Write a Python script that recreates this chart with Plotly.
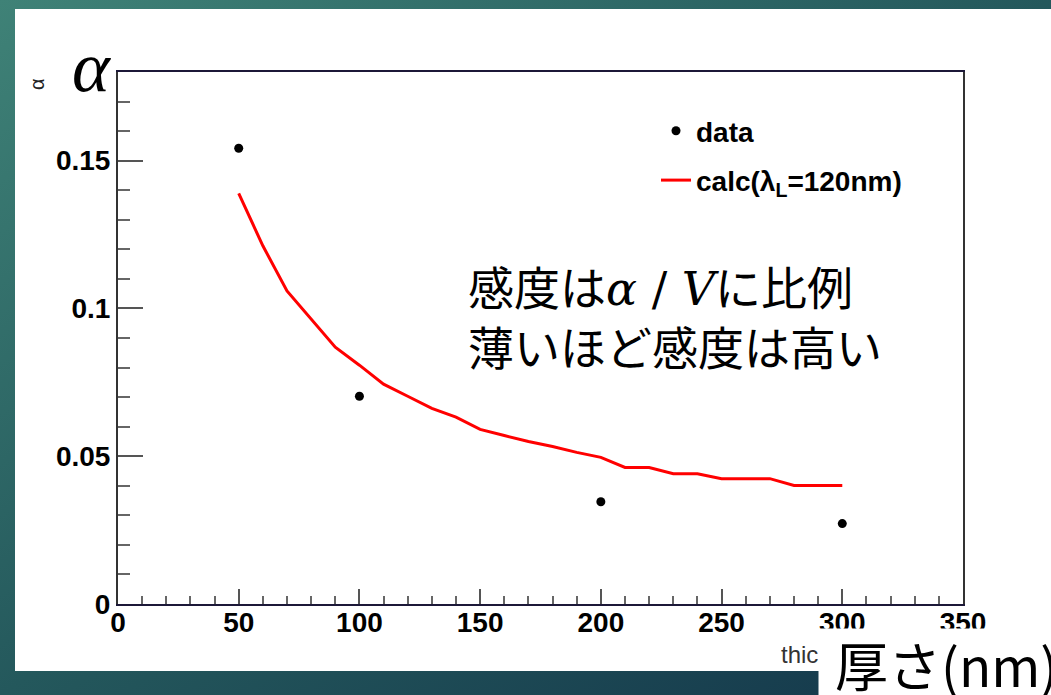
import base64
import plotly.graph_objects as go

# ---- data ----
thickness_data = [50, 100, 200, 300]
alpha_data = [0.1542, 0.0703, 0.0346, 0.0272]

thickness_calc = [50, 60, 70, 80, 90, 100, 110, 120, 130, 140, 150, 160, 170, 180, 190,
                  200, 210, 220, 230, 240, 250, 260, 270, 280, 290, 300]
alpha_calc = [0.1389, 0.1212, 0.1059, 0.0964, 0.0869, 0.0808, 0.0744, 0.0703, 0.0662, 0.0632,
              0.0591, 0.0570, 0.0550, 0.0533, 0.0513, 0.0496, 0.0462, 0.0462, 0.0441, 0.0441,
              0.0424, 0.0424, 0.0424, 0.0401, 0.0401, 0.0401]

y_ticks = [0, 0.05, 0.1, 0.15]
x_ticks = [0, 50, 100, 150, 200, 250, 300, 350]

W, H = 1051, 695
L, R, T, B = 118, 963, 72, 604


def px(xp):
    return (xp - L) / (R - L)


def py(yp):
    return (B - yp) / (B - T)


svg = (
    "<svg xmlns='http://www.w3.org/2000/svg' width='1051' height='695'>"
    "<defs><linearGradient id='g' x1='0' y1='0' x2='1' y2='1'>"
    "<stop offset='0' stop-color='#3f8277'/>"
    "<stop offset='0.5' stop-color='#24585c'/>"
    "<stop offset='1' stop-color='#13354a'/>"
    "</linearGradient></defs>"
    "<rect width='1051' height='695' fill='url(#g)'/>"
    "<rect x='15' y='9' width='1036' height='662' fill='#ffffff'/>"
    "</svg>"
)
bg_src = "data:image/svg+xml;base64," + base64.b64encode(svg.encode()).decode()

fig = go.Figure()
fig.add_trace(go.Scatter(
    x=thickness_data, y=alpha_data, mode="markers", name="data",
    marker=dict(color="black", size=9), legendgroup="a", cliponaxis=False))
fig.add_trace(go.Scatter(
    x=thickness_calc, y=alpha_calc, mode="lines", name="calc(λ<sub>L</sub>=120nm)",
    line=dict(color="#ff0000", width=3), legendgroup="b"))

tickfont = dict(family="Liberation Sans", size=28, color="black", weight="bold")

fig.update_layout(
    width=W, height=H, autosize=False,
    margin=dict(l=L, r=W - R, t=T, b=H - B),
    paper_bgcolor="#2a6262", plot_bgcolor="rgba(0,0,0,0)",
    showlegend=True,
    legend=dict(x=px(656), y=py(106), xanchor="left", yanchor="top",
                bgcolor="rgba(0,0,0,0)", tracegroupgap=10, traceorder="grouped",
                font=dict(family="Liberation Sans", size=28, color="black", weight="bold")),
    images=[dict(source=bg_src, xref="paper", yref="paper", x=px(0), y=py(0),
                 sizex=px(W) - px(0), sizey=py(0) - py(H), sizing="stretch",
                 xanchor="left", yanchor="top", layer="below")],
    xaxis=dict(range=[0, 350], tickvals=x_ticks, ticks="inside", ticklen=15, tickwidth=2,
               tickcolor="#555", showline=True, linewidth=2, linecolor="#1c1838", mirror=True,
               showgrid=False, zeroline=False, tickfont=tickfont, ticklabelstandoff=-8,
               minor=dict(dtick=10, ticks="inside", ticklen=8, tickwidth=2, tickcolor="#666")),
    yaxis=dict(range=[0, 0.18], tickvals=y_ticks, ticktext=["0", "0.05", "0.1", "0.15"],
               ticks="inside", ticklen=25, tickwidth=2, tickcolor="#555", showline=True,
               linewidth=2, linecolor="#333", mirror=True, showgrid=False, zeroline=False,
               tickfont=tickfont,
               minor=dict(dtick=0.01, ticks="inside", ticklen=12, tickwidth=2, tickcolor="#666")),
)

ann = []
# small ROOT-style y title
ann.append(dict(text="α", x=px(24), y=py(76), xref="paper", yref="paper", showarrow=False,
                textangle=-90, font=dict(family="Liberation Sans", size=20, color="#222")))
# big italic alpha
ann.append(dict(text="<i>α</i>", x=px(70), y=py(25), xref="paper", yref="paper", showarrow=False,
                font=dict(family="Liberation Serif", size=72, color="black")))
# main message
ann.append(dict(
    text="感度は<span style=\"font-family:'DejaVu Serif'\"><i>α</i> / <i>V</i></span>に比例<br>薄いほど感度は高い",
    x=px(466), y=py(250), xref="paper", yref="paper", xanchor="left", yanchor="top",
    showarrow=False, align="left",
    font=dict(family="Noto Sans CJK JP", size=46, color="black")))
# x axis title (partly hidden)
ann.append(dict(text="thickness (nm)", x=px(779), y=py(654), xref="paper", yref="paper",
                xanchor="left", yanchor="middle", showarrow=False,
                font=dict(family="Liberation Sans", size=24, color="#333")))
# white box
ann.append(dict(text=" ", x=px(818), y=py(628), xref="paper", yref="paper", xanchor="left",
                yanchor="top", showarrow=False, width=260, height=90, bgcolor="white",
                borderpad=0, font=dict(size=10)))
ann.append(dict(text="厚さ(nm)", x=px(833), y=py(664), xref="paper", yref="paper",
                xanchor="left", yanchor="middle", showarrow=False,
                font=dict(family="Noto Sans CJK JP", size=53, color="black")))
fig.update_layout(annotations=ann)

fig.write_html("out.html", config={"displayModeBar": False},
               post_script="document.body.style.margin='0';")
